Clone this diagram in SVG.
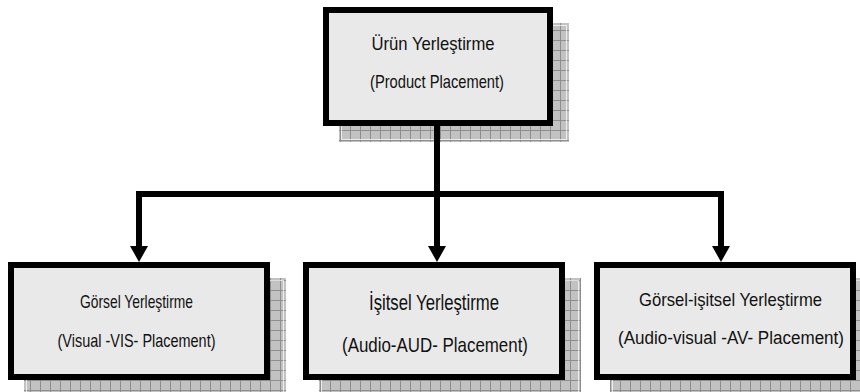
<svg xmlns="http://www.w3.org/2000/svg" width="860" height="392" viewBox="0 0 860 392">
  <defs>
    <pattern id="grid" width="10" height="10" patternUnits="userSpaceOnUse">
      <rect width="10" height="10" fill="#c2c2c2"/>
      <path d="M0,0.5 H10 M0.5,0 V10" stroke="#8e8e8e" stroke-width="1" fill="none"/>
    </pattern>
    <marker id="arrow" markerUnits="userSpaceOnUse" markerWidth="16" markerHeight="18" viewBox="0 0 16 18" refX="0" refY="9" orient="auto">
      <path d="M0,0 L16,9 L0,18 Z" fill="#000"/>
    </marker>
  </defs>
  <style>
    .shadow { fill: url(#grid); }
    .shline { fill: none; stroke: #ffffff; stroke-opacity: 0.7; stroke-width: 1; }
    .box { fill: #e9e9e9; stroke: #000; stroke-width: 6; }
    .lbl { font-family: "Liberation Sans", "DejaVu Sans", sans-serif; fill: #111; text-anchor: middle; }
    .conn { fill: none; stroke: #000; stroke-width: 6; }
  </style>

  <g id="top">
    <rect class="shadow" x="339" y="23" width="230" height="119"/>
    <rect class="shline" x="341.5" y="25.5" width="225" height="114"/>
    <rect class="box" x="326" y="10" width="224" height="113"/>
    <text class="lbl" x="433" y="50" font-size="19" textLength="123" lengthAdjust="spacingAndGlyphs">Ürün Yerleştirme</text>
    <text class="lbl" x="437" y="88" font-size="19" textLength="134" lengthAdjust="spacingAndGlyphs">(Product Placement)</text>
  </g>

  <g id="visual">
    <rect class="shadow" x="24" y="278" width="262" height="118"/>
    <rect class="shline" x="26.5" y="280.5" width="257" height="120"/>
    <rect class="box" x="11" y="265" width="256" height="112"/>
    <text class="lbl" x="136.5" y="308" font-size="19" textLength="113" lengthAdjust="spacingAndGlyphs">Görsel Yerleştirme</text>
    <text class="lbl" x="136.5" y="347" font-size="19" textLength="158" lengthAdjust="spacingAndGlyphs">(Visual -VIS- Placement)</text>
  </g>

  <g id="audio">
    <rect class="shadow" x="319" y="278" width="262" height="118"/>
    <rect class="shline" x="321.5" y="280.5" width="257" height="120"/>
    <rect class="box" x="306" y="265" width="256" height="112"/>
    <text class="lbl" x="434" y="310" font-size="22" textLength="130" lengthAdjust="spacingAndGlyphs">İşitsel Yerleştirme</text>
    <text class="lbl" x="435" y="352" font-size="21" textLength="186" lengthAdjust="spacingAndGlyphs">(Audio-AUD- Placement)</text>
  </g>

  <g id="audiovisual">
    <rect class="shadow" x="610" y="278" width="262" height="118"/>
    <rect class="shline" x="612.5" y="280.5" width="257" height="120"/>
    <rect class="box" x="597" y="265" width="256" height="112"/>
    <text class="lbl" x="730.5" y="306" font-size="19" textLength="183" lengthAdjust="spacingAndGlyphs">Görsel-işitsel Yerleştirme</text>
    <text class="lbl" x="731" y="344" font-size="18" textLength="226" lengthAdjust="spacingAndGlyphs">(Audio-visual -AV- Placement)</text>
  </g>

  <g id="connectors">
    <path class="conn" d="M437,126 V246" marker-end="url(#arrow)"/>
    <path class="conn" d="M437,194 H139 V246" marker-end="url(#arrow)"/>
    <path class="conn" d="M437,194 H721 V246" marker-end="url(#arrow)"/>
  </g>
</svg>
